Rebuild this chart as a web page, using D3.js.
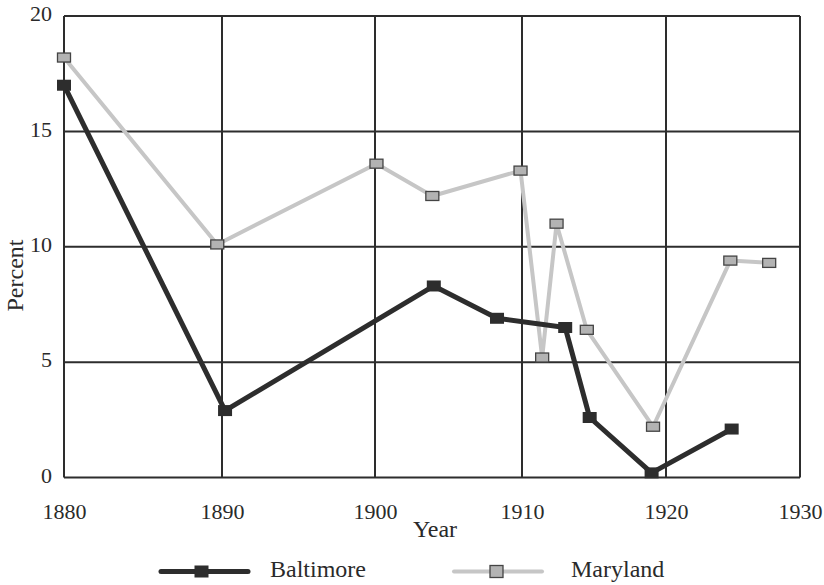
<!DOCTYPE html>
<html>
<head>
<meta charset="utf-8">
<script src="https://cdn.jsdelivr.net/npm/d3@7/dist/d3.min.js"></script>
<style>
  html, body { margin: 0; padding: 0; background: #fff; }
  svg { display: block; }
  text { font-family: "Liberation Serif", "DejaVu Serif", serif; fill: #2a2a2a; }
</style>
</head>
<body>
<svg id="chart" width="824" height="585"></svg>
<script>
// ---- data ----
const xTickYears = [1880, 1890, 1900, 1910, 1920, 1930];
const yTickValues = [0, 5, 10, 15, 20];

const baltimoreYears  = [1880, 1890.2, 1904.0, 1908.3, 1913.0, 1914.7, 1919.0, 1924.9];
const baltimoreValues = [17.0, 2.9, 8.3, 6.9, 6.5, 2.6, 0.2, 2.1];

const marylandYears  = [1880, 1889.7, 1900.1, 1903.9, 1909.9, 1911.4, 1912.4, 1914.5, 1919.1, 1924.8, 1927.7];
const marylandValues = [18.2, 10.1, 13.6, 12.2, 13.3, 5.2, 11.0, 6.4, 2.2, 9.4, 9.3];

const seriesNames = ["Baltimore", "Maryland"];

// ---- layout ----
const svg = d3.select("#chart");
const plot = { left: 64, right: 800, top: 16, bottom: 477.5 };
const gridX = [64, 222, 375, 522, 666, 800]; // pixel positions of the year grid lines in the picture

const x = d3.scaleLinear().domain(xTickYears).range(gridX);
const y = d3.scaleLinear().domain([0, 20]).range([plot.bottom, plot.top]);

const dark = "#2d2d2d";
const lightLine = "#c6c6c6";
const grayFill = "#b3b3b3";

// grid
const g = svg.append("g");
g.selectAll("line.h").data(yTickValues).join("line")
  .attr("x1", plot.left).attr("x2", plot.right)
  .attr("y1", d => y(d)).attr("y2", d => y(d))
  .attr("stroke", dark).attr("stroke-width", 2);
g.selectAll("line.v").data(xTickYears).join("line")
  .attr("y1", plot.top).attr("y2", plot.bottom)
  .attr("x1", d => x(d)).attr("x2", d => x(d))
  .attr("stroke", dark).attr("stroke-width", 2);

// axes labels via d3 axes
const xAxis = d3.axisBottom(x).tickValues(xTickYears).tickFormat(d3.format("d")).tickSize(0).tickPadding(0);
const xg = svg.append("g").attr("transform", `translate(0,${plot.bottom})`).call(xAxis);
xg.select(".domain").remove();
xg.selectAll("text").attr("font-size", 22).attr("dy", 0).attr("y", 41.5)
  .style("font-family", '"Liberation Serif", serif').attr("fill", "#2a2a2a");

const yAxis = d3.axisLeft(y).tickValues(yTickValues).tickSize(0).tickPadding(0);
const yg = svg.append("g").attr("transform", `translate(${plot.left},0)`).call(yAxis);
yg.select(".domain").remove();
yg.selectAll("text").attr("font-size", 22).attr("x", -12).attr("dy", "0.22em")
  .style("font-family", '"Liberation Serif", serif').attr("fill", "#2a2a2a");

svg.append("text").attr("x", 435).attr("y", 537).attr("text-anchor", "middle")
  .attr("font-size", 24).text("Year");
svg.append("text").attr("transform", "translate(23,275.5) rotate(-90)")
  .attr("text-anchor", "middle").attr("font-size", 24).text("Percent");

// lines
const line = d3.line().x(d => x(d[0])).y(d => y(d[1]));
const md = marylandYears.map((yr, i) => [yr, marylandValues[i]]);
const bm = baltimoreYears.map((yr, i) => [yr, baltimoreValues[i]]);

svg.append("path").datum(md).attr("d", line).attr("fill", "none")
  .attr("stroke", lightLine).attr("stroke-width", 4).attr("stroke-linejoin", "round");
svg.append("path").datum(bm).attr("d", line).attr("fill", "none")
  .attr("stroke", dark).attr("stroke-width", 5).attr("stroke-linejoin", "round");

svg.selectAll("rect.md").data(md).join("rect")
  .attr("x", d => x(d[0]) - 6.5).attr("y", d => y(d[1]) - 4.5)
  .attr("width", 13).attr("height", 9)
  .attr("fill", grayFill).attr("stroke", "#444").attr("stroke-width", 1.3);
svg.selectAll("rect.bm").data(bm).join("rect")
  .attr("x", d => x(d[0]) - 7).attr("y", d => y(d[1]) - 5.5)
  .attr("width", 14).attr("height", 11)
  .attr("fill", dark);

// legend
const leg = svg.append("g");
leg.append("line").attr("x1", 161).attr("x2", 248).attr("y1", 571.5).attr("y2", 571.5)
  .attr("stroke", dark).attr("stroke-width", 5).attr("stroke-linecap", "round");
leg.append("rect").attr("x", 201.5 - 7).attr("y", 571.5 - 6).attr("width", 14).attr("height", 12).attr("fill", dark);
leg.append("text").attr("x", 270).attr("y", 577).attr("font-size", 24).text(seriesNames[0]);

leg.append("line").attr("x1", 454).attr("x2", 542).attr("y1", 571.5).attr("y2", 571.5)
  .attr("stroke", lightLine).attr("stroke-width", 4).attr("stroke-linecap", "round");
leg.append("rect").attr("x", 496.5 - 6.5).attr("y", 571.5 - 6).attr("width", 13).attr("height", 12)
  .attr("fill", grayFill).attr("stroke", "#444").attr("stroke-width", 1.3);
leg.append("text").attr("x", 571).attr("y", 577).attr("font-size", 24).text(seriesNames[1]);
</script>
</body>
</html>
